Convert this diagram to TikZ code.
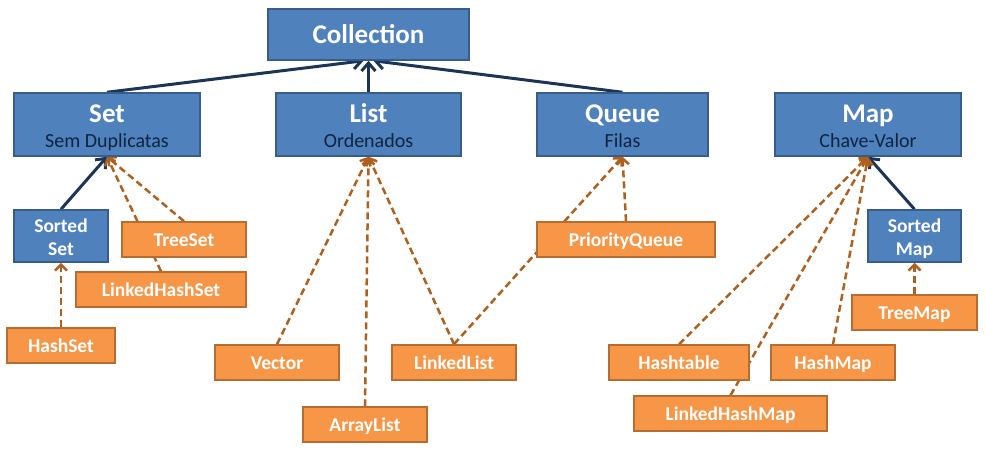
\documentclass[tikz,border=0pt]{standalone}
\usepackage{fontspec}
\setmainfont{Carlito}
\usetikzlibrary{arrows.meta,backgrounds}

\definecolor{boxBlue}{HTML}{4F81BD}
\definecolor{blueBorder}{HTML}{385D8A}
\definecolor{boxOrange}{HTML}{F79646}
\definecolor{orangeBorder}{HTML}{B66D31}
\definecolor{lineNavy}{HTML}{1C3557}
\definecolor{lineBrown}{HTML}{B0601E}
\definecolor{subText}{HTML}{0F2440}

\newcommand{\boxtitle}[1]{{\fontsize{27}{25}\selectfont\bfseries #1}}
\newcommand{\twolines}[2]{\rule{0pt}{24pt}\boxtitle{#1}\\{\color{subText}#2}\rule[-4pt]{0pt}{4pt}}
\newcommand{\sortedbox}[1]{\rule{0pt}{19pt}Sorted\\#1\rule[-4pt]{0pt}{4pt}}

\begin{document}
\begin{tikzpicture}[x=1pt,y=-1pt,
  blueBox/.style={draw=blueBorder, fill=boxBlue, line width=1.5pt, inner sep=0pt,
    text=white, align=center, font=\fontsize{20}{25}\selectfont},
  sortBox/.style={blueBox, font=\fontsize{19.5}{23}\selectfont\bfseries},
  orangeBox/.style={draw=orangeBorder, fill=boxOrange, line width=1.5pt, inner sep=0pt,
    text=white, minimum height=35pt, text height=13pt, text depth=0pt,
    font=\fontsize{19.5}{22}\selectfont\bfseries},
  isA/.style={draw=lineNavy, line width=3pt, -{Straight Barb[length=8pt,width=14pt]}},
  impl/.style={draw=lineBrown, line width=2.5pt, dash pattern=on 7pt off 4pt,
    -{Straight Barb[length=6pt,width=12pt]}}]
\useasboundingbox (0,0) rectangle (985,459);

% interfaces
\node[blueBox, minimum width=201pt, minimum height=51pt] (collection) at (368.5,34.5) {\boxtitle{Collection}};
\node[blueBox, minimum width=186pt, minimum height=63pt] (set) at (107,124.5) {\twolines{Set}{Sem Duplicatas}};
\node[blueBox, minimum width=185pt, minimum height=63pt] (list) at (368.5,124.5) {\twolines{List}{Ordenados}};
\node[blueBox, minimum width=171pt, minimum height=63pt] (queue) at (622.5,124.5) {\twolines{Queue}{Filas}};
\node[blueBox, minimum width=186pt, minimum height=63pt] (map) at (868,124.5) {\twolines{Map}{Chave-Valor}};
\node[sortBox, minimum width=94pt, minimum height=52pt] (sortedset) at (61,236) {\sortedbox{Set}};
\node[sortBox, minimum width=93pt, minimum height=52pt] (sortedmap) at (914.5,236) {\sortedbox{Map}};

% classes
\node[orangeBox, minimum width=124pt] (treeset) at (184,239.5) {TreeSet};
\node[orangeBox, minimum width=170pt] (linkedhashset) at (161,289.5) {LinkedHashSet};
\node[orangeBox, minimum width=108pt] (hashset) at (61,345.5) {HashSet};
\node[orangeBox, minimum width=124pt] (vector) at (277,362.5) {Vector};
\node[orangeBox, minimum width=124pt] (arraylist) at (365,424.5) {ArrayList};
\node[orangeBox, minimum width=124pt] (linkedlist) at (454,362.5) {LinkedList};
\node[orangeBox, minimum width=178pt] (priorityqueue) at (626,239.5) {PriorityQueue};
\node[orangeBox, minimum width=140pt] (hashtable) at (679,362.5) {Hashtable};
\node[orangeBox, minimum width=193pt] (linkedhashmap) at (730.5,413.5) {LinkedHashMap};
\node[orangeBox, minimum width=124pt] (hashmap) at (833,362.5) {HashMap};
\node[orangeBox, minimum width=125pt] (treemap) at (914.5,312.5) {TreeMap};

\begin{scope}[on background layer]
\draw[isA] (set.north) -- ([xshift=-5pt]collection.south);
\draw[isA] (list.north) -- (collection.south);
\draw[isA] (queue.north) -- ([xshift=5pt]collection.south);
\draw[isA] (sortedset.north) -- (set.south);
\draw[isA] (sortedmap.north) -- (map.south);

\draw[impl] (treeset.north) -- (set.south);
\draw[impl] (linkedhashset.north) -- (set.south);
\draw[impl] (hashset.north) -- (sortedset.south);

\draw[impl] (vector.north) -- (list.south);
\draw[impl] (arraylist.north) -- (list.south);
\draw[impl] (linkedlist.north) -- (list.south);
\draw[impl] (linkedlist.north) -- (queue.south);
\draw[impl] (priorityqueue.north) -- (queue.south);

\draw[impl] (hashtable.north) -- (map.south);
\draw[impl] (linkedhashmap.north) -- (map.south);
\draw[impl] (hashmap.north) -- (map.south);
\draw[impl] (treemap.north) -- (sortedmap.south);
\end{scope}

\end{tikzpicture}
\end{document}
